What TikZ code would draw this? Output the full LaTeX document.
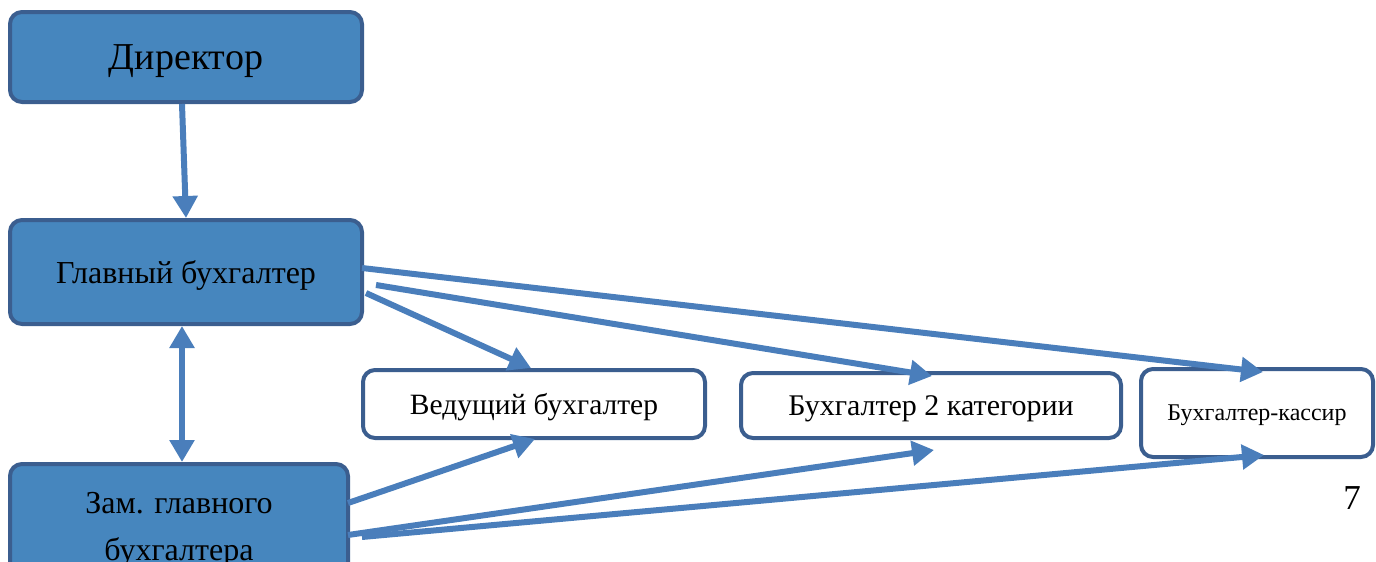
\documentclass[tikz,border=0pt]{standalone}
\usepackage{fontspec}
\setmainfont{Liberation Serif}
\usetikzlibrary{arrows.meta}
\definecolor{boxfill}{RGB}{70,134,190}
\definecolor{boxline}{RGB}{59,94,143}
\definecolor{arrowc}{RGB}{74,126,187}
\tikzset{
  bluebox/.style={draw=boxline, line width=4pt, fill=boxfill, rounded corners=12pt, inner sep=0pt, align=center},
  whitebox/.style={draw=boxline, line width=4pt, fill=white, rounded corners=12pt, inner sep=0pt, align=center, text depth=0pt},
  conn/.style={draw=arrowc, line width=6pt, -{Triangle[length=22pt,width=24pt]}},
  dconn/.style={draw=arrowc, line width=6pt, {Triangle[length=22pt,width=24pt]}-{Triangle[length=22pt,width=24pt]}}
}
\begin{document}
\begin{tikzpicture}[x=1pt,y=-1pt]
\useasboundingbox (0,0) rectangle (1376,562);
\clip (0,0) rectangle (1376,562);
\node[bluebox, text depth=0pt, minimum width=352pt, minimum height=90pt, font=\fontsize{38}{44}\selectfont] (dir) at (186,57) {Директор};
\node[bluebox, text depth=0pt, minimum width=352pt, minimum height=104pt, font=\fontsize{32}{38}\selectfont] (gb) at (186,272) {Главный бухгалтер};
\node[bluebox, minimum width=338pt, minimum height=132pt, font=\fontsize{32}{47}\selectfont] (zam) at (179,530) {Зам. главного\\бухгалтера};
\node[whitebox, minimum width=342pt, minimum height=68pt, font=\fontsize{29.5}{34}\selectfont] (ved) at (534,404) {Ведущий бухгалтер};
\node[whitebox, minimum width=380pt, minimum height=65pt, font=\fontsize{30}{34}\selectfont] (b2) at (931,405.5) {Бухгалтер 2 категории};
\node[whitebox, minimum width=232pt, minimum height=88pt, font=\fontsize{24}{28}\selectfont] (kas) at (1257,413) {Бухгалтер-кассир};
\node[font=\fontsize{35}{40}\selectfont, inner sep=0pt] (pg) at (1352,498.5) {7};

\coordinate (d1) at (182,104); \coordinate (d2) at (186,218);
\coordinate (g1) at (182,326); \coordinate (z1) at (182,462);
\coordinate (g2) at (362,268); \coordinate (k1) at (1263,372);
\coordinate (g3) at (376,285); \coordinate (b1) at (932,376);
\coordinate (g4) at (366,293); \coordinate (v1) at (531,368);
\coordinate (z2) at (348,503); \coordinate (v2) at (535,439);
\coordinate (z3) at (348,535); \coordinate (b3) at (934,450);
\coordinate (z4) at (362,537); \coordinate (k2) at (1264,455);

\draw[conn] (d1) -- (d2);
\draw[dconn] (g1) -- (z1);
\draw[conn] (g2) -- (k1);
\draw[conn] (g3) -- (b1);
\draw[conn] (g4) -- (v1);
\draw[conn] (z2) -- (v2);
\draw[conn] (z3) -- (b3);
\draw[conn] (z4) -- (k2);
\end{tikzpicture}
\end{document}
